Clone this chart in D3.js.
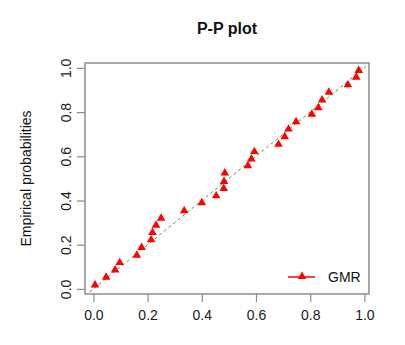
<!DOCTYPE html>
<html>
<head>
<meta charset="utf-8">
<script src="https://cdn.jsdelivr.net/npm/d3@7"></script>
<style>
  html, body { margin: 0; padding: 0; background: #fff; }
  svg { display: block; font-family: "Liberation Sans", Arial, sans-serif; }
</style>
</head>
<body>
<svg id="chart" width="405" height="345"></svg>
<script>
// Theoretical probabilities (x) and empirical probabilities (y)
const theoretical = [0.006, 0.047, 0.080, 0.097, 0.160, 0.178, 0.213, 0.218, 0.231, 0.250,
                     0.335, 0.400, 0.453, 0.481, 0.482, 0.485, 0.570, 0.583, 0.594, 0.683,
                     0.706, 0.720, 0.748, 0.806, 0.830, 0.844, 0.869, 0.939, 0.970, 0.979];
const empirical   = [0.018, 0.053, 0.086, 0.119, 0.152, 0.187, 0.222, 0.255, 0.288, 0.320,
                     0.354, 0.390, 0.421, 0.454, 0.486, 0.524, 0.557, 0.588, 0.621, 0.654,
                     0.688, 0.723, 0.756, 0.790, 0.820, 0.855, 0.890, 0.923, 0.958, 0.988];
const xTicks = [0.0, 0.2, 0.4, 0.6, 0.8, 1.0];
const yTicks = [0.0, 0.2, 0.4, 0.6, 0.8, 1.0];
const seriesName = "GMR";
const titleText = "P-P plot";
const yLabel = "Empirical probabilities";

const svg = d3.select("#chart");
const pL = 85, pR = 369, pT = 63, pB = 294;

const x = d3.scaleLinear().domain([-0.031, 1.017]).range([pL, pR]);
const y = d3.scaleLinear().domain([-0.023, 1.022]).range([pB, pT]);

const gray = "#8c8c8c";
const fmt = d3.format(".1f");

// clip
svg.append("defs").append("clipPath").attr("id", "clip")
  .append("rect").attr("x", pL).attr("y", pT).attr("width", pR - pL).attr("height", pB - pT);

// reference line y = x
svg.append("line")
  .attr("clip-path", "url(#clip)")
  .attr("x1", x(-0.1)).attr("y1", y(-0.1))
  .attr("x2", x(1.1)).attr("y2", y(1.1))
  .attr("stroke", "#3f9a3f").attr("stroke-width", 1)
  .attr("stroke-dasharray", "3,3");

// points
const tri = d3.symbol().type(d3.symbolTriangle).size(32);
svg.append("g").selectAll("path")
  .data(theoretical.map((d, i) => [d, empirical[i]]))
  .join("path")
  .attr("d", tri)
  .attr("transform", d => `translate(${x(d[0])},${y(d[1])})`)
  .attr("fill", "#ff0000");

// axes
const xAxis = svg.append("g").attr("transform", `translate(0,${pB})`)
  .call(d3.axisBottom(x).tickValues(xTicks).tickFormat(fmt).tickSize(8).tickPadding(4));
const yAxis = svg.append("g").attr("transform", `translate(${pL},0)`)
  .call(d3.axisLeft(y).tickValues(yTicks).tickFormat(fmt).tickSize(8).tickPadding(5));
[xAxis, yAxis].forEach(g => {
  g.select(".domain").remove();
  g.selectAll(".tick line").attr("stroke", gray).attr("stroke-width", 1.2);
  g.selectAll(".tick text").attr("fill", "#1a1a1a").attr("font-size", 14)
    .attr("font-family", "Liberation Sans, Arial, sans-serif");
});
xAxis.selectAll(".tick text").attr("dy", "1em");
yAxis.selectAll(".tick text")
  .attr("transform", "rotate(-90)")
  .attr("x", 0).attr("y", -14)
  .attr("dy", 0)
  .attr("text-anchor", "middle");

// box
svg.append("rect")
  .attr("x", pL).attr("y", pT).attr("width", pR - pL).attr("height", pB - pT)
  .attr("fill", "none").attr("stroke", gray).attr("stroke-width", 1.5);

// title
svg.append("text").attr("x", 227).attr("y", 34).attr("text-anchor", "middle")
  .attr("font-size", 16).attr("font-weight", "bold").attr("fill", "#111").text(titleText);

// y label
svg.append("text").attr("transform", `translate(31,${(pT + pB) / 2}) rotate(-90)`)
  .attr("text-anchor", "middle").attr("font-size", 14).attr("fill", "#111").text(yLabel);

// legend
const lg = svg.append("g");
lg.append("line").attr("x1", 288).attr("x2", 315).attr("y1", 277).attr("y2", 277)
  .attr("stroke", "#ff0000").attr("stroke-width", 1.5);
lg.append("path").attr("d", tri).attr("transform", "translate(302,276.5)").attr("fill", "#ff0000");
lg.append("text").attr("x", 328).attr("y", 282).attr("font-size", 14).attr("fill", "#111").text(seriesName);
</script>
</body>
</html>
